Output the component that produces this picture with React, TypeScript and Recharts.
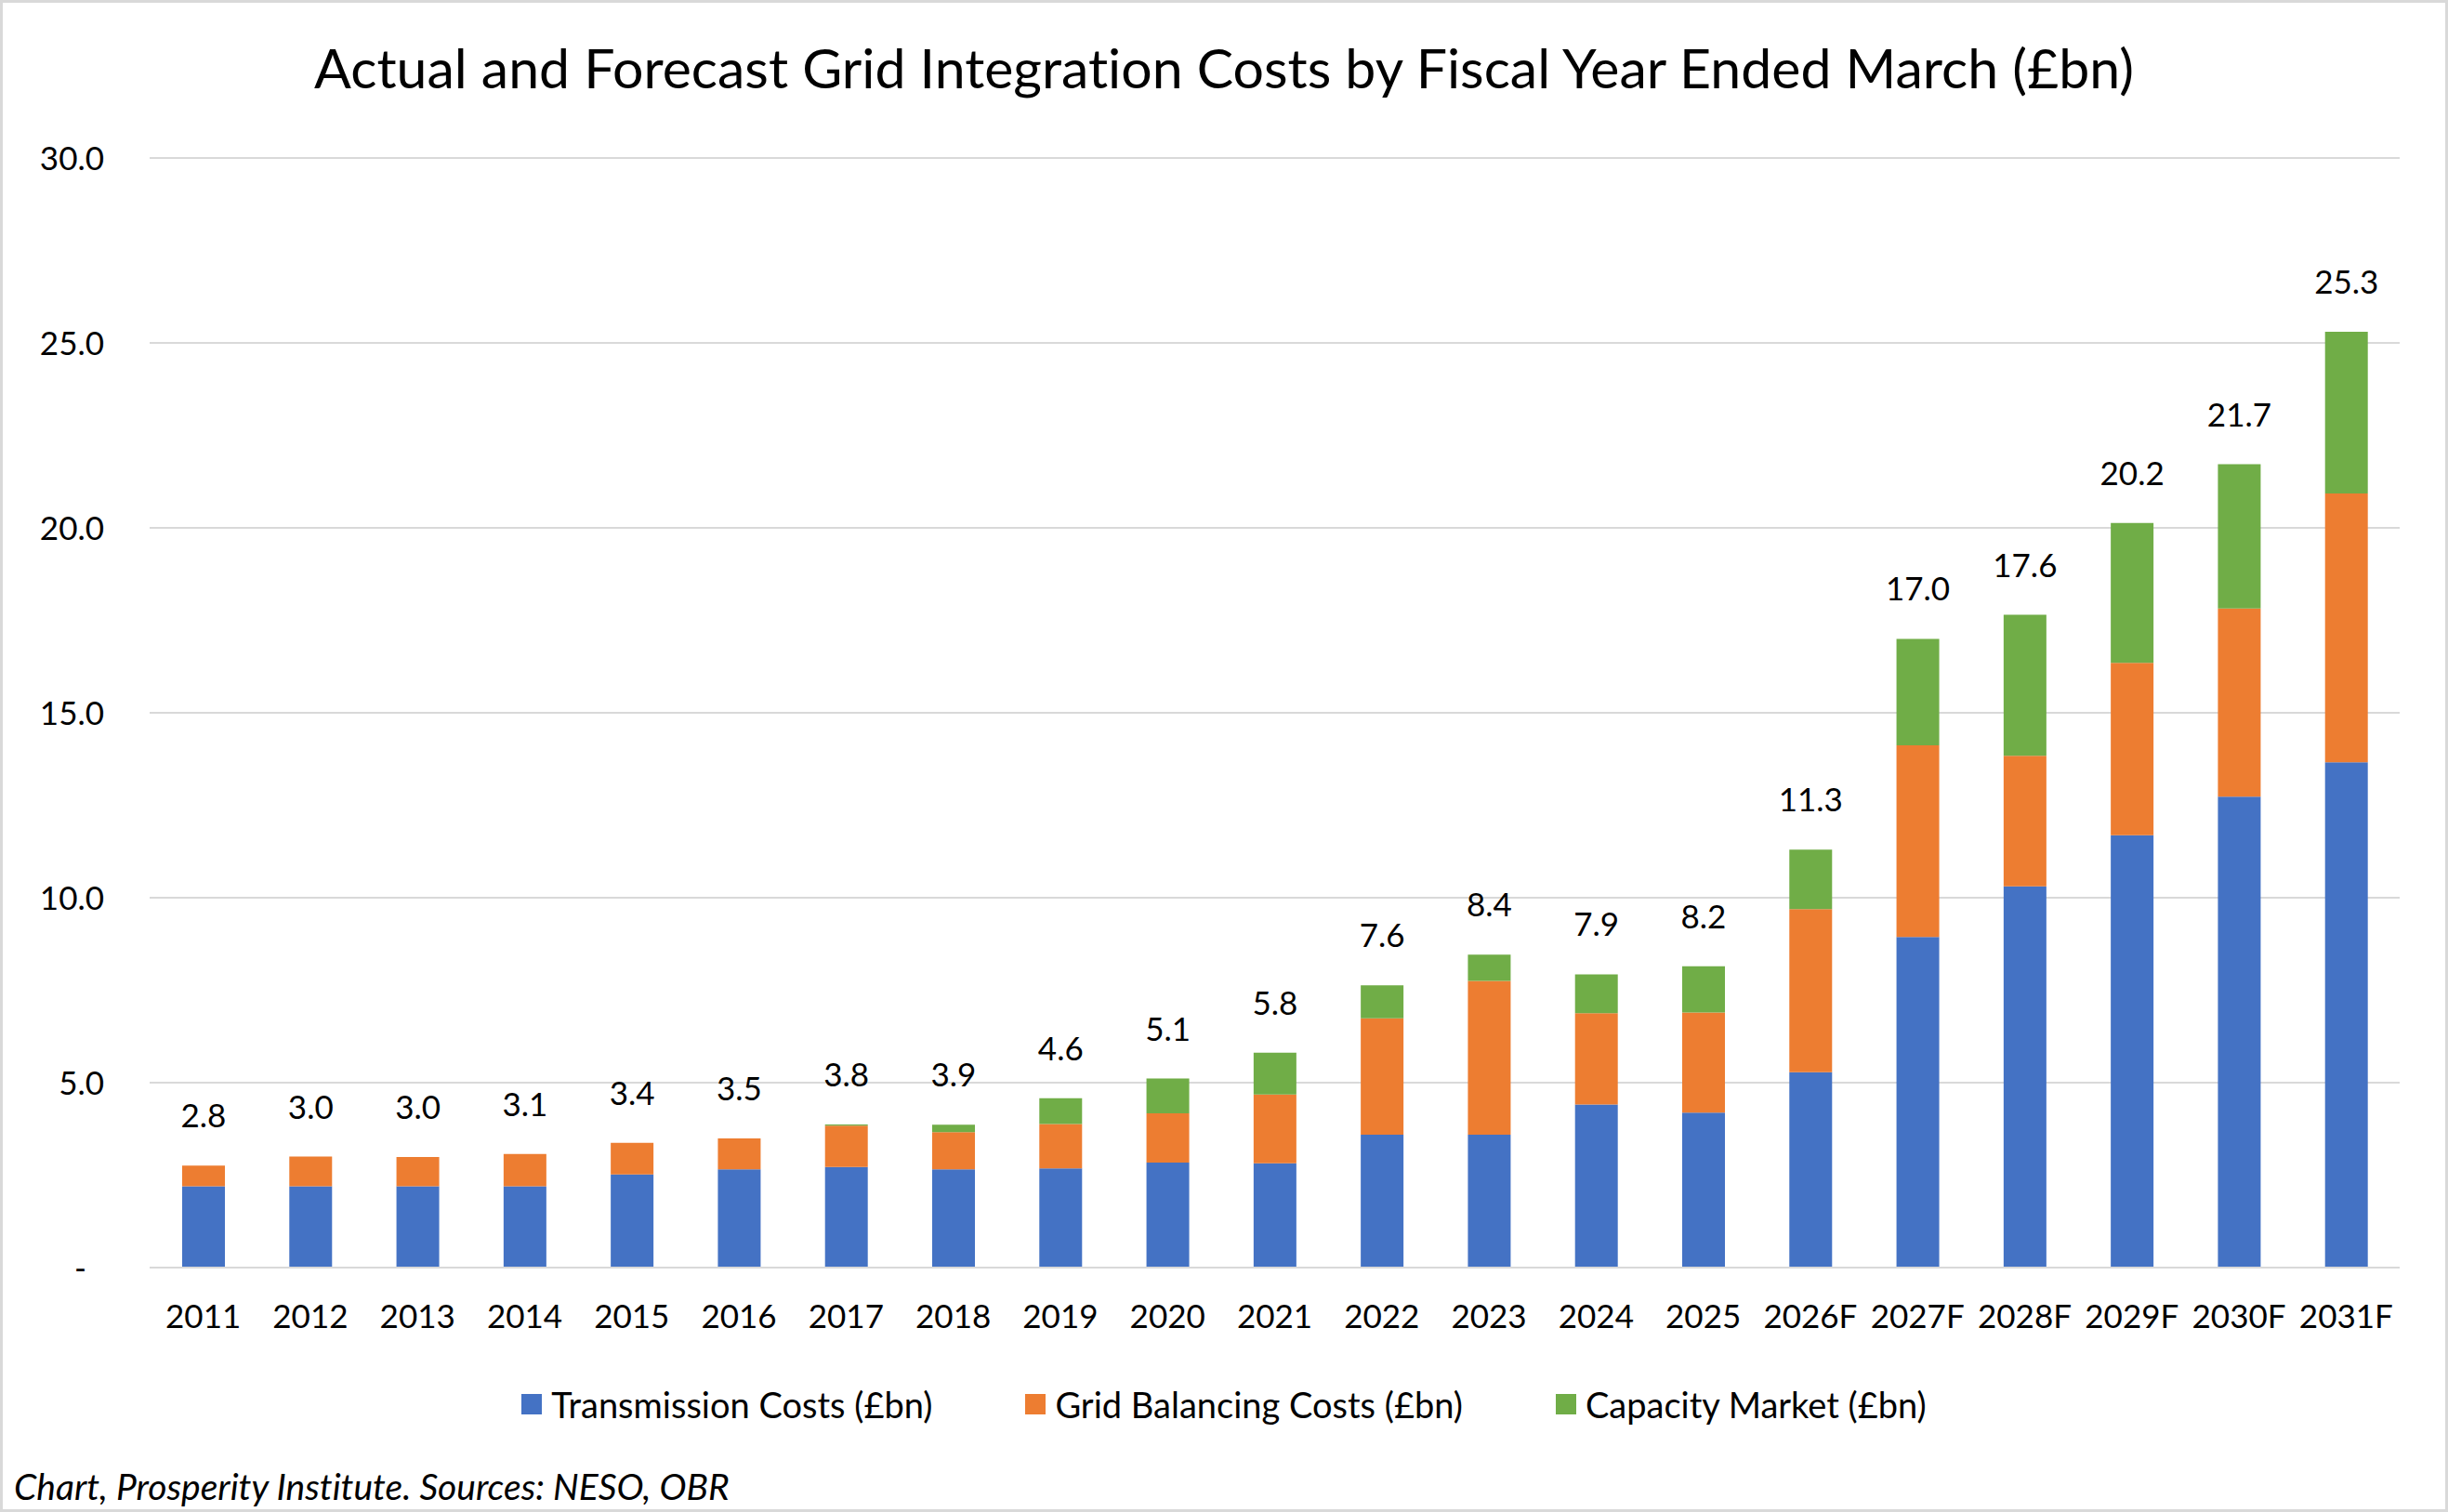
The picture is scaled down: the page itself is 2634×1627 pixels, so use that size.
import { Bar, BarChart, CartesianGrid, LabelList, XAxis, YAxis } from "recharts";

const years = ["2011", "2012", "2013", "2014", "2015", "2016", "2017", "2018", "2019", "2020", "2021", "2022", "2023", "2024", "2025", "2026F", "2027F", "2028F", "2029F", "2030F", "2031F"];
const transmission = [2.2, 2.2, 2.2, 2.2, 2.52, 2.66, 2.72, 2.66, 2.68, 2.84, 2.82, 3.59, 3.59, 4.41, 4.19, 5.28, 8.94, 10.31, 11.69, 12.73, 13.66];
const balancing = [0.56, 0.8, 0.79, 0.87, 0.85, 0.83, 1.12, 1.0, 1.2, 1.33, 1.86, 3.15, 4.16, 2.47, 2.71, 4.41, 5.18, 3.53, 4.66, 5.09, 7.27];
const capacity = [0, 0, 0, 0, 0, 0, 0.03, 0.2, 0.7, 0.94, 1.13, 0.89, 0.71, 1.05, 1.25, 1.61, 2.88, 3.81, 3.78, 3.9, 4.37];
const totalLabels = ["2.8", "3.0", "3.0", "3.1", "3.4", "3.5", "3.8", "3.9", "4.6", "5.1", "5.8", "7.6", "8.4", "7.9", "8.2", "11.3", "17.0", "17.6", "20.2", "21.7", "25.3"];
const yTicks = [0, 5, 10, 15, 20, 25, 30];

const series = [
  { key: "transmission", name: "Transmission Costs (£bn)", color: "#4472C4" },
  { key: "balancing", name: "Grid Balancing Costs (£bn)", color: "#ED7D31" },
  { key: "capacity", name: "Capacity Market (£bn)", color: "#70AD47" },
];

const data = years.map((year, i) => ({
  year,
  transmission: transmission[i],
  balancing: balancing[i],
  capacity: capacity[i],
}));

const FONT = "Lato, 'Noto Sans', sans-serif";

function YTick({ y, payload }: any) {
  const zero = payload.value === 0;
  return (
    <text x={zero ? 93 : 112} y={y} dy="0.36em" textAnchor="end" fontSize={35} fontFamily={FONT} fill="#000">
      {zero ? "-" : payload.value.toFixed(1)}
    </text>
  );
}

// sits on the orange segment (never zero), then steps up by the green segment
function TotalLabel({ x, y, width, height, value }: any) {
  const i = years.indexOf(value);
  if (i < 0) return null;
  const pxPerUnit = height / balancing[i];
  const top = y - capacity[i] * pxPerUnit;
  return (
    <text x={x + width / 2} y={top - 41} textAnchor="middle" fontSize={35} fontFamily={FONT} fill="#000">
      {totalLabels[i]}
    </text>
  );
}

export default function App() {
  return (
    <div
      style={{
        position: "absolute",
        left: 0,
        top: 0,
        width: 2634,
        height: 1627,
        boxSizing: "border-box",
        border: "3px solid #d9d9d9",
        background: "#fff",
        fontFamily: FONT,
        fontVariantLigatures: "none",
      }}
    >
      <div style={{ position: "absolute", left: -3, top: 33, width: 2634, textAlign: "center", fontSize: 59, color: "#000", lineHeight: "74px" }}>
        Actual and Forecast Grid Integration Costs by Fiscal Year Ended March (£bn)
      </div>
      <div style={{ position: "absolute", left: -3, top: -3 }}>
        <BarChart width={2634} height={1627} data={data} margin={{ top: 170, right: 52, bottom: 163, left: 0 }} barSize={46}>
          <CartesianGrid vertical={false} stroke="#d9d9d9" strokeWidth={2} />
          <XAxis
            dataKey="year"
            height={100}
            tickSize={0}
            tickMargin={40}
            axisLine={{ stroke: "#d9d9d9", strokeWidth: 2 }}
            tick={{ fontSize: 35, fontFamily: FONT, fill: "#000" }}
            interval={0}
          />
          <YAxis width={161} domain={[0, 30]} ticks={yTicks} axisLine={false} tickLine={false} tick={<YTick />} />
          {series.map((s) => (
            <Bar key={s.key} dataKey={s.key} name={s.name} stackId="a" fill={s.color} isAnimationActive={false}>
              {s.key === "balancing" && <LabelList dataKey="year" content={<TotalLabel />} />}
            </Bar>
          ))}
        </BarChart>
      </div>
      <div style={{ position: "absolute", left: -3, top: 1485, width: 2634, display: "flex", justifyContent: "center", alignItems: "center", fontSize: 38, color: "#000", lineHeight: "46px" }}>
        {series.map((s, i) => (
          <div key={s.key} style={{ display: "flex", alignItems: "center", marginLeft: i === 0 ? 0 : 100 }}>
            <span style={{ display: "inline-block", width: 22, height: 22, background: s.color, marginRight: 10 }} />
            <span>{s.name}</span>
          </div>
        ))}
      </div>
      <div style={{ position: "absolute", left: 12, top: 1573, fontSize: 39, fontStyle: "italic", color: "#000", lineHeight: "46px" }}>
        Chart, Prosperity Institute. Sources: NESO, OBR
      </div>
    </div>
  );
}
